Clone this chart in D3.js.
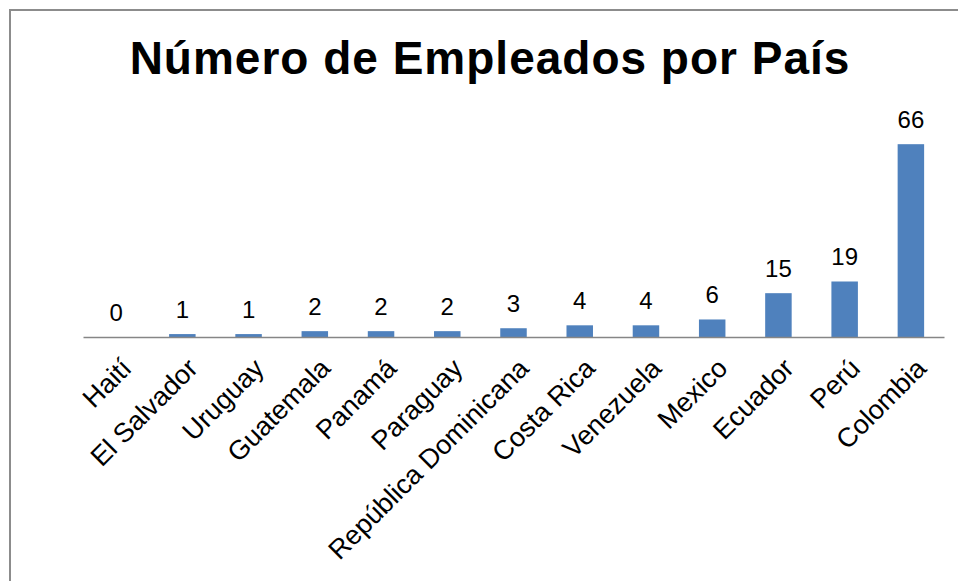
<!DOCTYPE html>
<html>
<head>
<meta charset="utf-8">
<script src="https://cdn.jsdelivr.net/npm/d3@7"></script>
<style>
  body { margin: 0; background: #fff; }
  svg text { font-family: "Liberation Sans", Arial, sans-serif; fill: #000; }
</style>
</head>
<body>
<div id="chart"></div>
<script>
// chart data
var countries = ['Haití', 'El Salvador', 'Uruguay', 'Guatemala', 'Panamá', 'Paraguay',
  'República Dominicana', 'Costa Rica', 'Venezuela', 'Mexico', 'Ecuador', 'Perú', 'Colombia'];
var employees = [0, 1, 1, 2, 2, 2, 3, 4, 4, 6, 15, 19, 66];
var chartTitle = 'Número de Empleados por País';

var width = 958, height = 581;
var plot = {left: 83, right: 944, top: 132.5, bottom: 337};

var svg = d3.select('#chart').append('svg')
  .attr('width', width)
  .attr('height', height);

// chart area frame (only top and left edges show in the crop)
svg.append('rect')
  .attr('x', 10)
  .attr('y', 10)
  .attr('width', width + 20)
  .attr('height', height + 20)
  .attr('fill', '#fff')
  .attr('stroke', '#8c8c8c')
  .attr('stroke-width', 2);

svg.append('text')
  .attr('x', 490)
  .attr('y', 74)
  .attr('text-anchor', 'middle')
  .style('font-size', '46px')
  .style('font-weight', 'bold')
  .style('letter-spacing', '1px')
  .text(chartTitle);

var x = d3.scaleBand()
  .domain(countries)
  .range([plot.left, plot.right])
  .paddingInner(0.6)
  .paddingOuter(0.3);

var y = d3.scaleLinear()
  .domain([0, 70])
  .range([plot.bottom, plot.top]);

var data = countries.map(function (c, i) {
  return {country: c, value: employees[i]};
});

svg.append('g')
  .selectAll('rect')
  .data(data)
  .enter().append('rect')
  .attr('x', function (d) { return x(d.country); })
  .attr('y', function (d) { return y(d.value); })
  .attr('width', x.bandwidth())
  .attr('height', function (d) { return y(0) - y(d.value); })
  .attr('fill', '#4f81bd');

// category axis line
var axis = svg.append('g')
  .attr('transform', 'translate(0,' + plot.bottom + ')')
  .call(d3.axisBottom(x).tickSize(0).tickFormat(''));
axis.select('.domain')
  .attr('stroke', '#868686')
  .attr('stroke-width', 1.5);

// value labels
svg.append('g')
  .selectAll('text')
  .data(data)
  .enter().append('text')
  .attr('x', function (d) { return x(d.country) + x.bandwidth() / 2; })
  .attr('y', function (d) { return y(d.value) - 16; })
  .attr('text-anchor', 'middle')
  .style('font-size', '24px')
  .text(function (d) { return d.value; });

// rotated country labels
svg.append('g')
  .selectAll('text')
  .data(data)
  .enter().append('text')
  .attr('transform', function (d) {
    var cx = x(d.country) + x.bandwidth() / 2 + 17;
    return 'translate(' + cx + ',' + (plot.bottom + 33) + ') rotate(-45)';
  })
  .attr('text-anchor', 'end')
  .style('font-size', '27px')
  .text(function (d) { return d.country; });
</script>
</body>
</html>
